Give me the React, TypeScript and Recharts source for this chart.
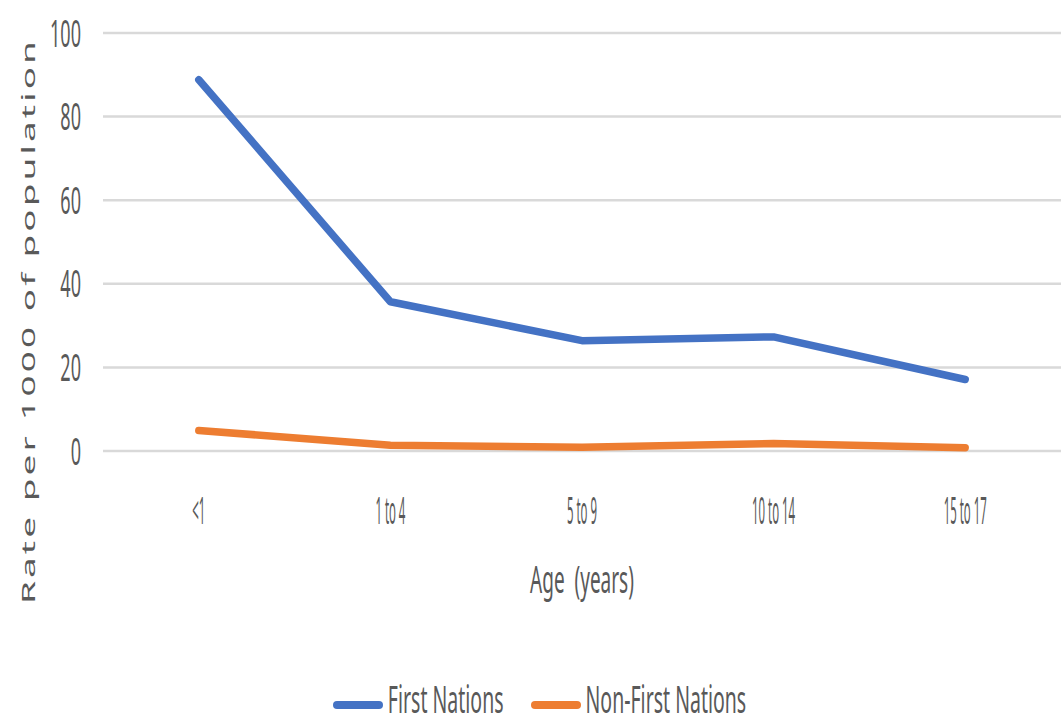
import React from 'react';
import { LineChart, Line, XAxis, YAxis, CartesianGrid, Legend } from 'recharts';

const categories = ['<1', '1 to 4', '5 to 9', '10 to 14', '15 to 17'];
const firstNations = [88.8, 35.7, 26.4, 27.3, 17.1];
const nonFirstNations = [4.9, 1.4, 0.9, 1.8, 0.8];
const yTicks = [0, 20, 40, 60, 80, 100];

const seriesNames = ['First Nations', 'Non-First Nations'];
const seriesColors = ['#4472C4', '#ED7D31'];

const data = categories.map((c, i) => ({
  age: c,
  fn: firstNations[i],
  nfn: nonFirstNations[i],
}));

const FONT = '"Noto Sans", "Open Sans", sans-serif';
const TEXT = '#595959';

const XTick = (props: any) => {
  const { x, y, payload } = props;
  return (
    <text
      transform={`translate(${x}, ${y + 73}) scale(0.6, 2.05)`}
      textAnchor="middle"
      fontFamily={FONT}
      fontSize={19}
      fill={TEXT}
    >
      {payload.value}
    </text>
  );
};

const YTick = (props: any) => {
  const { x, y, payload } = props;
  return (
    <text
      transform={`translate(${x}, ${y + 13.5}) scale(0.95, 2)`}
      textAnchor="end"
      fontFamily={FONT}
      fontSize={19}
      fill={TEXT}
    >
      {payload.value}
    </text>
  );
};

const XLabel = (props: any) => {
  const { viewBox } = props;
  const cx = viewBox.x + viewBox.width / 2;
  return (
    <text
      transform={`translate(${cx}, ${viewBox.y + 142}) scale(1, 2)`}
      textAnchor="middle"
      fontFamily={FONT}
      fontSize={19}
      fill={TEXT}
      style={{ whiteSpace: 'pre' }}
    >
      {'Age  (years)'}
    </text>
  );
};

const YLabel = (props: any) => {
  const { viewBox } = props;
  const cy = viewBox.y + viewBox.height / 2 + 79;
  return (
    <text
      transform={`translate(35, ${cy}) rotate(-90) scale(2.05, 1)`}
      textAnchor="middle"
      fontFamily={FONT}
      fontSize={18}
      letterSpacing={1.5}
      fill={TEXT}
    >
      Rate per 1000 of population
    </text>
  );
};

const LegendContent = () => (
  <div
    style={{
      display: 'flex',
      justifyContent: 'center',
      alignItems: 'center',
      height: 40,
      paddingLeft: 18,
    }}
  >
    {seriesNames.map((name, i) => (
      <div key={name} style={{ display: 'flex', alignItems: 'center', marginRight: i === 0 ? 27 : 0 }}>
        <span
          style={{
            display: 'inline-block',
            width: 50,
            height: 8,
            borderRadius: 4,
            background: seriesColors[i],
            marginTop: 12,
          }}
        />
        <span
          style={{
            display: 'inline-block',
            marginLeft: 5,
            fontSize: 19.5,
            lineHeight: '18px',
            fontFamily: FONT,
            color: TEXT,
            transform: 'scale(1, 2)',
          }}
        >
          {name}
        </span>
      </div>
    ))}
  </div>
);

export default function App() {
  return (
    <div style={{ position: 'absolute', left: 0, top: 0, width: 1061, height: 721, background: '#fff' }}>
      <LineChart
        width={1061}
        height={721}
        data={data}
        margin={{ top: 33, right: 0, bottom: 0, left: 0 }}
      >
        <CartesianGrid vertical={false} stroke="#D9D9D9" strokeWidth={2.5} />
        <XAxis
          dataKey="age"
          scale="band"
          axisLine={false}
          tickLine={false}
          tickSize={0}
          tickMargin={0}
          height={230}
          tick={<XTick />}
          interval={0}
          label={<XLabel />}
        />
        <YAxis
          domain={[0, 100]}
          ticks={yTicks}
          axisLine={false}
          tickLine={false}
          tickSize={0}
          tickMargin={22}
          width={103}
          tick={<YTick />}
          label={<YLabel />}
        />
        <Legend
          content={<LegendContent />}
          verticalAlign="bottom"
          wrapperStyle={{ left: 0, top: 679, width: 1061, height: 40 }}
        />
        <Line
          dataKey="fn"
          name={seriesNames[0]}
          stroke={seriesColors[0]}
          strokeWidth={7.5}
          dot={false}
          activeDot={false}
          strokeLinecap="round"
          strokeLinejoin="round"
          isAnimationActive={false}
        />
        <Line
          dataKey="nfn"
          name={seriesNames[1]}
          stroke={seriesColors[1]}
          strokeWidth={7.5}
          dot={false}
          activeDot={false}
          strokeLinecap="round"
          strokeLinejoin="round"
          isAnimationActive={false}
        />
      </LineChart>
    </div>
  );
}
